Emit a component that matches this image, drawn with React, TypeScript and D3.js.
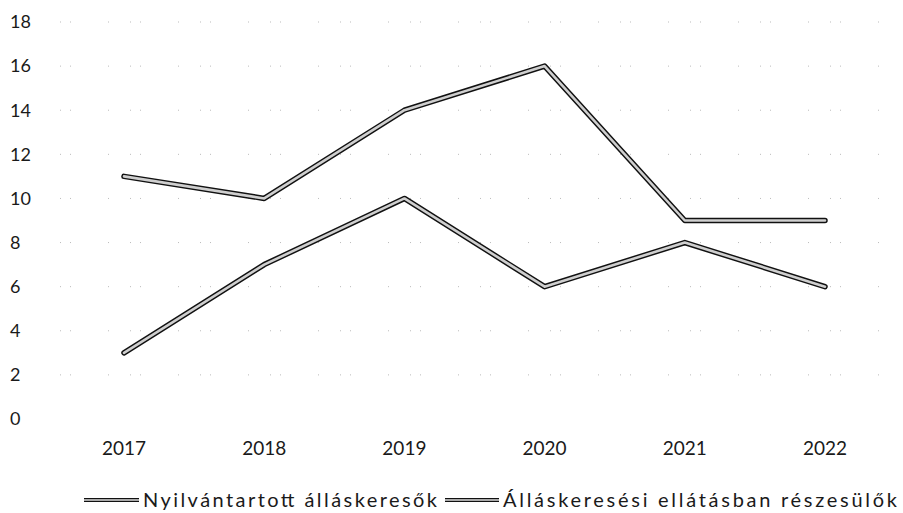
import React, { useEffect, useRef } from 'react';
import * as d3 from 'd3';

const years = ['2017', '2018', '2019', '2020', '2021', '2022'];
const registered = [3, 7, 10, 6, 8, 6];
const benefits = [11, 10, 14, 16, 9, 9];
const seriesNames = ['Nyilvántartott álláskeresők', 'Álláskeresési ellátásban részesülők'];
const yTicks = [0, 2, 4, 6, 8, 10, 12, 14, 16, 18];

const App = () => {
  const svgRef = useRef<SVGSVGElement>(null);

  useEffect(() => {
    const width = 903;
    const height = 513;
    const font = 'Lato, "Open Sans", sans-serif';

    const svg = d3.select(svgRef.current)
      .attr('width', width)
      .attr('height', height);
    svg.selectAll('*').remove();

    const x = d3.scalePoint<string>()
      .domain(years)
      .range([124, 825]);

    const y = d3.scaleLinear()
      .domain([0, 18])
      .range([419, 22]);

    // faint, broken gridlines (scanned look)
    svg.append('g')
      .selectAll('line')
      .data(yTicks.filter(d => d > 0))
      .enter().append('line')
      .attr('x1', 60)
      .attr('x2', 890)
      .attr('y1', d => y(d))
      .attr('y2', d => y(d))
      .attr('stroke', '#bbb')
      .attr('stroke-width', 1)
      .attr('stroke-dasharray', '1,9,1,37,1,21');

    // y labels
    svg.append('g')
      .selectAll('text')
      .data(yTicks)
      .enter().append('text')
      .attr('x', 10)
      .attr('y', d => y(d))
      .attr('dy', '0.35em')
      .attr('font-family', font)
      .attr('font-size', 18)
      .attr('fill', '#1a1a1a')
      .text(d => d);

    // x labels
    svg.append('g')
      .selectAll('text')
      .data(years)
      .enter().append('text')
      .attr('x', d => x(d)!)
      .attr('y', 448)
      .attr('dy', '0.35em')
      .attr('text-anchor', 'middle')
      .attr('font-family', font)
      .attr('font-size', 19)
      .attr('fill', '#1a1a1a')
      .text(d => d);

    const line = d3.line<number>()
      .x((_, i) => x(years[i])!)
      .y(d => y(d));

    [registered, benefits].forEach(vals => {
      svg.append('path')
        .attr('d', line(vals))
        .attr('fill', 'none')
        .attr('stroke', '#111')
        .attr('stroke-width', 5.5)
        .attr('stroke-linejoin', 'round')
        .attr('stroke-linecap', 'round');
      svg.append('path')
        .attr('d', line(vals))
        .attr('fill', 'none')
        .attr('stroke', '#cfcfcf')
        .attr('stroke-width', 2.6)
        .attr('stroke-linejoin', 'round')
        .attr('stroke-linecap', 'round');
    });

    // legend
    const legend = [
      { x0: 84, x1: 139, tx: 143, tw: 294, name: seriesNames[0] },
      { x0: 445, x1: 499, tx: 503, tw: 394, name: seriesNames[1] }
    ];
    const ly = 500;
    legend.forEach(l => {
      svg.append('line')
        .attr('x1', l.x0).attr('x2', l.x1)
        .attr('y1', ly).attr('y2', ly)
        .attr('stroke', '#111')
        .attr('stroke-width', 4);
      svg.append('line')
        .attr('x1', l.x0).attr('x2', l.x1)
        .attr('y1', ly).attr('y2', ly)
        .attr('stroke', '#ddd')
        .attr('stroke-width', 1.6);
      svg.append('text')
        .attr('x', l.tx)
        .attr('y', ly)
        .attr('dy', '0.35em')
        .attr('font-family', font)
        .attr('font-size', 20)
        .attr('fill', '#1a1a1a')
        .attr('textLength', l.tw)
        .attr('lengthAdjust', 'spacing')
        .text(l.name);
    });
  }, []);

  return (
    <svg ref={svgRef} style={{ position: 'absolute', left: 0, top: 0 }}></svg>
  );
};

export default App;
